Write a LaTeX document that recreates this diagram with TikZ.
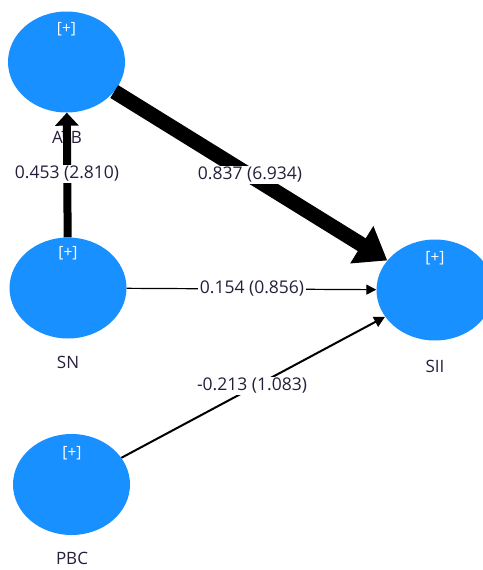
\documentclass[tikz,border=0pt]{standalone}
\usepackage{fontspec}
\setmainfont{Open Sans}
\usetikzlibrary{shapes.geometric,arrows.meta}
\definecolor{latent}{RGB}{25,144,255}
\definecolor{labeltext}{RGB}{40,30,60}
\begin{document}
\begin{tikzpicture}[x=1pt,y=-1pt,
  construct/.style={ellipse,fill=latent,draw=none,minimum width=117pt,minimum height=101pt,inner sep=0pt},
  plus/.style={text=white,font=\fontsize{15.5}{15.5}\selectfont},
  cname/.style={text=labeltext,font=\fontsize{17}{17}\selectfont},
  coef/.style={fill=white,text=labeltext,inner sep=1.5pt,font=\fontsize{17.5}{17.5}\selectfont},
  path/.style={draw=black}]
\useasboundingbox (0,0) rectangle (482,570);

% latent constructs
\node[construct] (atb) at (66.5,62) {};
\node[construct] (sn)  at (68,288) {};
\node[construct] (pbc) at (71.5,484.5) {};
\node[construct] (sii) at (435,290) {};

\node[plus] (atbp) at (66.5,29) {[+]};
\node[plus] (snp)  at (68,253) {[+]};
\node[plus] (pbcp) at (72,453) {[+]};
\node[plus] (siip) at (435,258) {[+]};

\node[cname] (atbn) at (67,137) {ATB};
\node[cname] (snn)  at (68,362) {SN};
\node[cname] (pbcn) at (72,558) {PBC};
\node[cname] (siin) at (435,366) {SII};

% structural paths, width scaled by effect size
\draw[path,line width=8pt,-{Triangle[length=13pt,width=23pt]}] (sn) -- (atb);
\draw[path,line width=15pt,-{Triangle[length=30pt,width=42pt]}] (atb) -- (sii);
\draw[path,line width=1.2pt,-{Triangle[length=10pt,width=10pt]}] (sn) -- (sii);
\draw[path,line width=2pt,-{Triangle[length=11pt,width=11pt]}] (pbc) -- (sii);

% path coefficients with t values
\node[coef] (c1) at (67,174) {0.453 (2.810)};
\node[coef] (c2) at (250,175) {0.837 (6.934)};
\node[coef] (c3) at (252,289) {0.154 (0.856)};
\node[coef] (c4) at (252,386) {-0.213 (1.083)};
\end{tikzpicture}
\end{document}
